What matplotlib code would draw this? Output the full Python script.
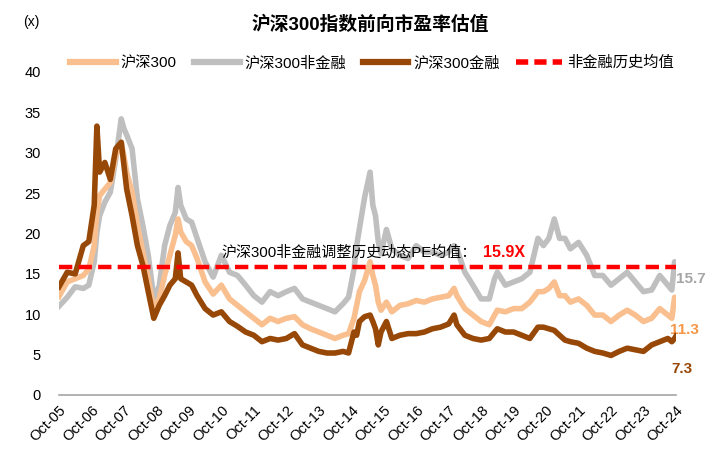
import matplotlib
matplotlib.use("Agg")
import matplotlib.pyplot as plt
import pandas as pd
from matplotlib.lines import Line2D

plt.rcParams['font.family'] = ['Liberation Sans', 'Noto Sans CJK SC', 'DejaVu Sans']

dates = ['2005-10-01', '2006-01-01', '2006-04-01', '2006-07-01', '2006-09-01', '2006-11-01',
         '2006-12-01', '2007-01-01', '2007-03-01', '2007-05-01', '2007-07-01', '2007-09-01',
         '2007-10-01', '2007-11-01', '2008-01-01', '2008-03-01', '2008-05-01', '2008-07-01',
         '2008-09-01', '2008-11-01', '2009-01-01', '2009-03-01', '2009-05-01', '2009-06-01',
         '2009-07-01', '2009-09-01', '2009-11-01', '2010-01-01', '2010-04-01', '2010-07-01',
         '2010-10-01', '2011-01-01', '2011-04-01', '2011-07-01', '2011-10-01', '2012-01-01',
         '2012-04-01', '2012-07-01', '2012-10-01', '2013-01-01', '2013-04-01', '2013-07-01',
         '2013-10-01', '2014-01-01', '2014-04-01', '2014-07-01', '2014-09-01', '2014-11-01',
         '2014-12-01', '2015-01-01', '2015-03-01', '2015-05-01', '2015-06-01', '2015-07-01',
         '2015-08-01', '2015-09-01', '2015-11-01', '2016-01-01', '2016-04-01', '2016-07-01',
         '2016-10-01', '2017-01-01', '2017-04-01', '2017-07-01', '2017-10-01', '2017-12-01',
         '2018-01-01', '2018-04-01', '2018-07-01', '2018-10-01', '2019-01-01', '2019-03-01',
         '2019-04-01', '2019-07-01', '2019-10-01', '2020-01-01', '2020-04-01', '2020-07-01',
         '2020-09-01', '2020-11-01', '2021-01-01', '2021-03-01', '2021-05-01', '2021-07-01',
         '2021-10-01', '2022-01-01', '2022-04-01', '2022-07-01', '2022-10-01', '2023-01-01',
         '2023-04-01', '2023-07-01', '2023-10-01', '2024-01-01', '2024-04-01', '2024-07-01',
         '2024-08-15', '2024-09-15', '2024-10-01']

csi300 = [12.2, 14.0, 14.4, 14.8, 15.6, 18.5,
          22.6, 24.7, 25.5, 26.3, 29.6, 31.3,
          29.6, 27.6, 25.1, 21.0, 17.7, 14.4,
          10.7, 11.9, 14.8, 17.3, 19.8, 21.8,
          20.2, 19.0, 18.5, 16.9, 14.0, 12.5,
          13.6, 11.9, 11.1, 10.3, 9.5, 8.7,
          9.5, 9.1, 9.5, 9.7, 8.7, 8.2,
          7.8, 7.4, 7.0, 7.4, 7.6, 9.5,
          11.1, 12.8, 14.2, 16.5, 14.8, 13.6,
          11.5, 10.5, 11.5, 10.3, 11.1, 11.3,
          11.7, 11.5, 11.9, 12.1, 12.3, 13.2,
          12.3, 10.7, 9.9, 9.1, 8.7, 9.9,
          10.5, 10.3, 10.7, 10.7, 11.5, 12.8,
          12.8, 13.2, 14.0, 12.3, 12.3, 11.5,
          11.9, 11.1, 9.9, 9.9, 9.1, 9.9,
          10.5, 9.9, 9.1, 9.5, 10.7, 9.9,
          9.5, 12.1, 11.3]

nonfin = [11.0, 12.1, 13.4, 13.2, 13.6, 16.5,
          20.1, 22.2, 23.9, 25.1, 29.2, 34.2,
          33.0, 32.2, 30.5, 24.3, 21.0, 17.3,
          12.0, 13.5, 18.5, 21.0, 22.6, 25.7,
          23.5, 21.8, 21.4, 19.4, 16.5, 14.6,
          17.3, 15.2, 14.8, 13.6, 12.3, 11.5,
          12.8, 12.3, 12.8, 13.2, 11.9, 11.5,
          11.1, 10.7, 10.3, 11.3, 12.1, 15.6,
          18.5, 20.6, 24.5, 27.6, 23.5, 22.2,
          19.0, 17.5, 20.5, 18.1, 17.3, 16.9,
          18.5, 17.7, 17.7, 17.3, 17.7, 18.5,
          18.1, 15.2, 13.6, 11.9, 11.9, 14.4,
          15.2, 13.6, 14.0, 14.4, 15.2, 19.4,
          18.5, 19.4, 21.8, 19.4, 19.4, 18.1,
          18.9, 17.3, 14.8, 14.8, 13.6, 14.4,
          15.2, 14.0, 12.8, 13.0, 14.8, 13.6,
          13.0, 16.5, 15.7]

fin = [13.4, 15.2, 15.0, 18.5, 19.0, 23.5,
       33.3, 27.6, 28.8, 26.7, 30.5, 31.3,
       28.5, 25.5, 22.2, 18.5, 16.1, 12.8,
       9.5, 11.1, 12.3, 13.6, 14.4, 17.6,
       14.4, 14.0, 13.6, 12.3, 10.7, 9.9,
       10.3, 9.1, 8.5, 7.8, 7.4, 6.6,
       7.0, 6.8, 7.0, 7.6, 6.2, 5.8,
       5.4, 5.2, 5.2, 5.4, 5.2, 7.8,
       7.4, 9.1, 9.7, 9.9, 9.1, 8.2,
       6.2, 7.8, 9.1, 7.0, 7.4, 7.6,
       7.6, 7.8, 8.2, 8.4, 8.8, 9.9,
       8.7, 7.4, 7.0, 6.8, 7.0, 7.8,
       8.2, 7.8, 7.8, 7.4, 7.0, 8.4,
       8.4, 8.2, 8.0, 7.4, 6.8, 6.6,
       6.4, 5.8, 5.4, 5.2, 4.9, 5.4,
       5.8, 5.6, 5.4, 6.2, 6.6, 7.0,
       6.6, 7.0, 7.3]

hist_mean = 15.9
legend_labels = ['沪深300', '沪深300非金融', '沪深300金融', '非金融历史均值']
end_labels = ['15.7', '11.3', '7.3']
tick_years = list(range(2005, 2025))

c_orange = '#F9BF8F'
c_gray = '#BFBFBF'
c_brown = '#974706'
c_red = '#FF0000'

x = pd.to_datetime(dates)

fig = plt.figure(figsize=(7.1, 4.62), dpi=100)
ax = fig.add_axes([59/710, 1-395/462, (676-59)/710, (395-72)/462])

lw = 4.0
ax.plot(x, nonfin, color=c_gray, lw=lw, zorder=2, solid_joinstyle='round')
ax.plot(x, csi300, color=c_orange, lw=lw, zorder=3, solid_joinstyle='round')
ax.plot(x, fin, color=c_brown, lw=lw, zorder=4, solid_joinstyle='round')
ax.plot([x[0], x[-1]], [hist_mean, hist_mean], color=c_red, lw=3.2,
        linestyle=(0, (3.0, 1.4)), zorder=5)

ax.set_xlim(pd.Timestamp('2005-10-01'), pd.Timestamp('2024-10-01'))
ax.set_ylim(0, 40)
ax.set_yticks(range(0, 41, 5))
ticks = [pd.Timestamp(f'{y}-10-01') for y in tick_years]
ax.set_xticks(ticks)
ax.set_xticklabels([t.strftime('%b-%y') for t in ticks], rotation=45, ha='right',
                   rotation_mode='anchor', fontsize=10.5)
ax.tick_params(axis='x', length=0, pad=6)
ax.tick_params(axis='y', length=0, pad=13, labelsize=10.5)
for s in ['top', 'right', 'left']:
    ax.spines[s].set_visible(False)
ax.spines['bottom'].set_color('#A6A6A6')
ax.spines['bottom'].set_linewidth(1.2)

# annotation
ax.text(pd.Timestamp('2010-10-01'), 17.6, '沪深300非金融调整历史动态PE均值：', fontsize=10.8,
        color='black', ha='left', va='center', zorder=6)
ax.text(pd.Timestamp('2018-10-20'), 17.6, '15.9X', fontsize=11.5, color=c_red,
        fontweight='bold', ha='left', va='center', zorder=6)

# end labels
ax.text(1.0, 14.4, end_labels[0], transform=ax.get_yaxis_transform(), fontsize=11,
        color='#A6A6A6', fontweight='bold', ha='left', va='center', clip_on=False)
ax.text(0.99, 8.0, end_labels[1], transform=ax.get_yaxis_transform(), fontsize=11,
        color='#F79646', fontweight='bold', ha='left', va='center', clip_on=False)
ax.text(0.993, 3.2, end_labels[2], transform=ax.get_yaxis_transform(), fontsize=11,
        color=c_brown, fontweight='bold', ha='left', va='center', clip_on=False)

# title and unit
fig.text(370/710, 1-25/462, '沪深300指数前向市盈率估值', fontsize=13.5, fontweight='bold',
         ha='center', va='center')
fig.text(31/710, 1-22/462, '(x)', fontsize=10, ha='center', va='center')

handles = [Line2D([], [], color=c_orange, lw=4.5),
           Line2D([], [], color=c_gray, lw=4.5),
           Line2D([], [], color=c_brown, lw=4.5),
           Line2D([], [], color=c_red, lw=4, linestyle=(0, (2.2, 1.1)))]
fig.legend(handles, legend_labels, loc='center', bbox_to_anchor=(372/710, 1-63/462),
           ncol=4, frameon=False, fontsize=11, handlelength=3.0, handletextpad=0.3,
           columnspacing=1.1)

fig.savefig('out.png', dpi=100)
